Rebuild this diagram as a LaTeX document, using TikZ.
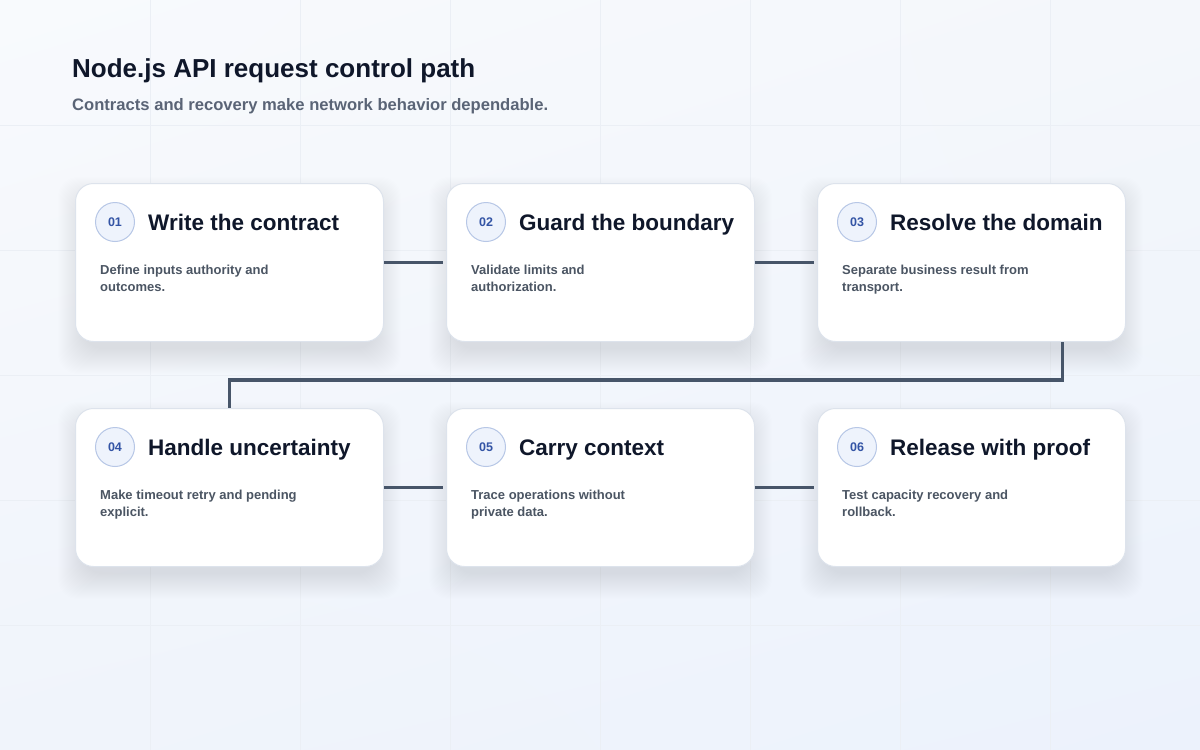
\documentclass[tikz,border=0pt]{standalone}
\usepackage{fontspec}
\setmainfont{Liberation Sans}
\usetikzlibrary{calc,shadings}
\definecolor{ink}{HTML}{0F172A}
\definecolor{subink}{HTML}{5A6476}
\definecolor{descink}{HTML}{4B5563}
\definecolor{wire}{HTML}{475569}
\definecolor{cardline}{HTML}{DDE3EC}
\definecolor{badgefill}{HTML}{EEF3FC}
\definecolor{badgeline}{HTML}{B7C7E6}
\definecolor{badgeink}{HTML}{3354A5}
\definecolor{gridc}{HTML}{EBEFF5}
\definecolor{shadowc}{HTML}{5A6480}
\definecolor{bgul}{HTML}{F8FAFD}
\definecolor{bgur}{HTML}{F4F7FB}
\definecolor{bgll}{HTML}{F0F4FB}
\definecolor{bglr}{HTML}{ECF2FC}
\pgfdeclarelayer{bg}
\pgfdeclarelayer{shadow}
\pgfsetlayers{bg,shadow,main}
\tikzset{
  card/.style={draw=cardline, line width=1pt, fill=white, rounded corners=18pt,
    minimum width=308pt, minimum height=158pt, inner sep=0pt},
  badge/.style={circle, draw=badgeline, line width=1pt, fill=badgefill, minimum size=39pt,
    inner sep=0pt, text=badgeink, font=\fontsize{12.5}{14}\selectfont\bfseries},
  cardtitle/.style={anchor=base west, inner sep=0pt, text=ink,
    font=\fontsize{22.5}{27}\selectfont\bfseries},
  carddesc/.style={anchor=base west, inner sep=0pt, text=descink, align=left,
    font=\fontsize{13}{17}\selectfont\bfseries},
  link/.style={draw=wire, line width=3.8pt},
  gridline/.style={draw=gridc, line width=1pt}
}
\newcommand{\mkcard}[7]{%
  \node[card, anchor=north west] (#1) at (#2,#3) {};
  \node[badge] (#1b) at ([xshift=40pt,yshift=-39pt]#1.north west) {#4};
  \node[cardtitle] (#1t) at ([xshift=73pt,yshift=-47pt]#1.north west) {#5};
  \node[carddesc] (#1d) at ([xshift=25pt,yshift=-108pt]#1.north west) {#6\\#7};
}
\begin{document}
\begin{tikzpicture}[x=1pt,y=-1pt]
\useasboundingbox (0,0) rectangle (1200,750);
\begin{pgfonlayer}{bg}
  \shade[upper left=bgul, upper right=bgur, lower left=bgll, lower right=bglr]
    (0,0) rectangle (1200,750);
  \foreach \gx in {150,300,...,1050} \draw[gridline] (\gx,0) -- (\gx,750);
  \foreach \gy in {125,250,...,625} \draw[gridline] (0,\gy) -- (1200,\gy);
\end{pgfonlayer}

\node[anchor=base west, inner sep=0pt, text=ink, font=\fontsize{26}{31}\selectfont\bfseries]
  (title) at (72,77) {Node.js API request control path};
\node[anchor=base west, inner sep=0pt, text=subink, font=\fontsize{16.6}{19}\selectfont\bfseries]
  (subtitle) at (72,110) {Contracts and recovery make network behavior dependable.};

\mkcard{c1}{75}{183}{01}{Write the contract}{Define inputs authority and}{outcomes.}
\mkcard{c2}{446}{183}{02}{Guard the boundary}{Validate limits and}{authorization.}
\mkcard{c3}{817}{183}{03}{Resolve the domain}{Separate business result from}{transport.}
\mkcard{c4}{75}{408}{04}{Handle uncertainty}{Make timeout retry and pending}{explicit.}
\mkcard{c5}{446}{408}{05}{Carry context}{Trace operations without}{private data.}
\mkcard{c6}{817}{408}{06}{Release with proof}{Test capacity recovery and}{rollback.}

\begin{pgfonlayer}{shadow}
  \foreach \c in {c1,c2,c3,c4,c5,c6}{
    \foreach \i in {1,...,26}{
      \fill[shadowc, opacity=0.0058, rounded corners=20pt]
        ([xshift=-\i pt+9pt, yshift=\i pt-20pt]\c.north west) rectangle
        ([xshift=\i pt-9pt, yshift=-\i pt-6pt]\c.south east);
    }
  }
\end{pgfonlayer}

\draw[link] (c1.east) -- ([xshift=-3pt]c2.west);
\draw[link] (c2.east) -- ([xshift=-3pt]c3.west);
\draw[link] ([xshift=91pt]c3.south) -- ++(0,38) -| (c4.north);
\draw[link] (c4.east) -- ([xshift=-3pt]c5.west);
\draw[link] (c5.east) -- ([xshift=-3pt]c6.west);
\end{tikzpicture}
\end{document}
